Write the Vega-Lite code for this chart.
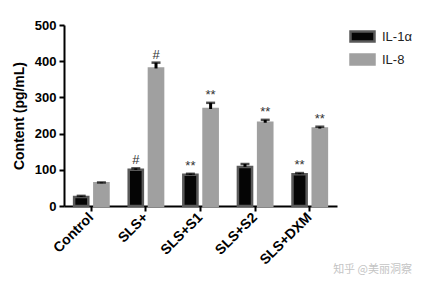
{
  "$schema": "https://vega.github.io/schema/vega-lite/v6.json",
  "width": 273,
  "height": 181,
  "autosize": {"type": "none"},
  "padding": {"left": 64, "top": 25, "right": 98, "bottom": 82},
  "background": "white",
  "title": {
    "text": "知乎 @美丽洞察",
    "orient": "bottom",
    "anchor": "end",
    "frame": "bounds",
    "font": "Noto Sans CJK SC",
    "fontSize": 11,
    "fontWeight": "normal",
    "color": "#c4c4c4",
    "offset": -3
  },
  "config": {
    "view": {"stroke": null},
    "font": "Liberation Sans"
  },
  "data": {
    "values": [
      {"group": "Control", "series": "IL-1α", "value": 25, "upper": 28, "sig": ""},
      {"group": "Control", "series": "IL-8", "value": 63, "upper": 65, "sig": ""},
      {"group": "SLS+", "series": "IL-1α", "value": 100, "upper": 104, "sig": "#"},
      {"group": "SLS+", "series": "IL-8", "value": 380, "upper": 396, "sig": "#"},
      {"group": "SLS+S1", "series": "IL-1α", "value": 86, "upper": 89, "sig": "**"},
      {"group": "SLS+S1", "series": "IL-8", "value": 268, "upper": 285, "sig": "**"},
      {"group": "SLS+S2", "series": "IL-1α", "value": 108, "upper": 116, "sig": ""},
      {"group": "SLS+S2", "series": "IL-8", "value": 230, "upper": 238, "sig": "**"},
      {"group": "SLS+DXM", "series": "IL-1α", "value": 88, "upper": 91, "sig": "**"},
      {"group": "SLS+DXM", "series": "IL-8", "value": 214, "upper": 219, "sig": "**"}
    ]
  },
  "encoding": {
    "x": {
      "field": "group",
      "type": "nominal",
      "sort": ["Control", "SLS+", "SLS+S1", "SLS+S2", "SLS+DXM"],
      "scale": {"paddingInner": 0, "paddingOuter": 0},
      "axis": {
        "title": null,
        "labelAngle": -45,
        "labelAlign": "right",
        "labelBaseline": "middle",
        "labelFont": "Liberation Sans",
        "labelFontWeight": "bold",
        "labelFontSize": 14,
        "labelColor": "#000",
        "labelPadding": 4,
        "domainColor": "#000",
        "domainWidth": 2,
        "tickColor": "#000",
        "tickWidth": 2,
        "tickSize": 5
      }
    },
    "xOffset": {
      "field": "series",
      "type": "nominal",
      "sort": ["IL-1α", "IL-8"],
      "scale": {"paddingInner": 0.3, "paddingOuter": 0.5}
    },
    "y": {
      "field": "value",
      "type": "quantitative",
      "scale": {"domain": [0, 500], "nice": false},
      "axis": {
        "title": "Content (pg/mL)",
        "titleFont": "Liberation Sans",
        "titleFontWeight": "bold",
        "titleFontSize": 14,
        "titleColor": "#000",
        "titlePadding": 8,
        "values": [0, 100, 200, 300, 400, 500],
        "grid": false,
        "labelFont": "Liberation Sans",
        "labelFontWeight": "bold",
        "labelFontSize": 13,
        "labelColor": "#000",
        "labelPadding": 3,
        "domainColor": "#000",
        "domainWidth": 2,
        "tickColor": "#000",
        "tickWidth": 2,
        "tickSize": 5
      }
    }
  },
  "layer": [
    {
      "mark": {"type": "bar", "strokeWidth": 2.5},
      "encoding": {
        "color": {
          "field": "series",
          "type": "nominal",
          "sort": ["IL-1α", "IL-8"],
          "scale": {"domain": ["IL-1α", "IL-8"], "range": ["#050505", "#a0a0a0"]},
          "legend": {
            "title": null,
            "orient": "right",
            "offset": 14,
            "symbolType": "M-1.2,-0.5H1.2V0.5H-1.2Z",
            "symbolSize": 400,
            "symbolStrokeWidth": 2.5,
            "symbolOpacity": 1,
            "labelFont": "Liberation Sans",
            "labelFontSize": 13,
            "labelColor": "#222",
            "labelOffset": 8,
            "rowPadding": 1
          }
        },
        "stroke": {
          "field": "series",
          "type": "nominal",
          "sort": ["IL-1α", "IL-8"],
          "scale": {"domain": ["IL-1α", "IL-8"], "range": ["#5a5a5a", "#a0a0a0"]},
          "legend": null
        }
      }
    },
    {
      "mark": {"type": "rule", "color": "#000", "strokeWidth": 3},
      "encoding": {"y2": {"field": "upper"}}
    },
    {
      "mark": {"type": "tick", "color": "#000", "thickness": 2.5, "size": 9},
      "encoding": {"y": {"field": "upper", "type": "quantitative"}}
    },
    {
      "mark": {"type": "text", "baseline": "bottom", "dy": -1, "fontSize": 13, "color": "#333", "font": "Liberation Sans"},
      "encoding": {
        "y": {"field": "upper", "type": "quantitative"},
        "text": {"field": "sig"}
      }
    }
  ]
}
